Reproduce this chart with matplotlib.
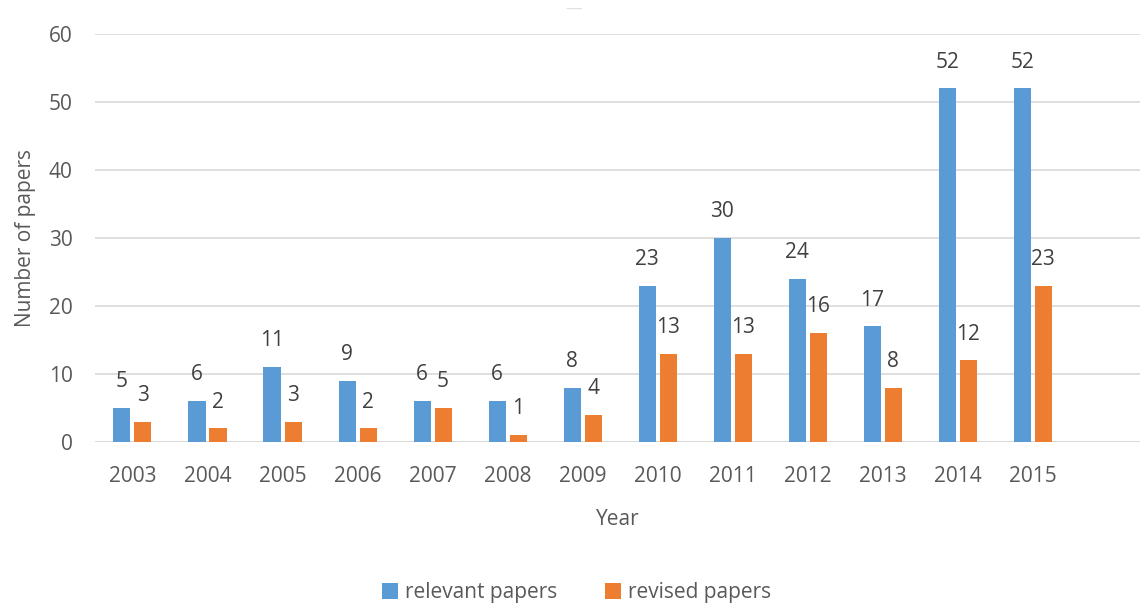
import numpy as np
import matplotlib.pyplot as plt

plt.rcParams['font.family'] = ['Open Sans', 'DejaVu Sans']

years = ['2003', '2004', '2005', '2006', '2007', '2008', '2009',
         '2010', '2011', '2012', '2013', '2014', '2015']
relevant = [5, 6, 11, 9, 6, 6, 8, 23, 30, 24, 17, 52, 52]
revised = [3, 2, 3, 2, 5, 1, 4, 13, 13, 16, 8, 12, 23]

BLUE = '#5B9BD5'
ORANGE = '#ED7D31'
TEXT = '#595959'
GRID = '#D9D9D9'

fig = plt.figure(figsize=(11.4, 6.06), dpi=100)
ax = fig.add_axes([0.0833, 0.2706, 0.9167, 0.6733])

x = np.arange(len(years))
w = 0.227
off = 0.14
b1 = ax.bar(x - off, relevant, w, color=BLUE, label='relevant papers', zorder=3)
b2 = ax.bar(x + off, revised, w, color=ORANGE, label='revised papers', zorder=3)

# value labels above each bar
for bars, vals in ((b1, relevant), (b2, revised)):
    for r, v in zip(bars, vals):
        ax.annotate(str(v), (r.get_x() + r.get_width() / 2, v),
                    xytext=(0, 19), textcoords='offset points',
                    ha='center', va='center', fontsize=15, color='#404040')

ax.set_ylim(0, 60)
ax.set_yticks(range(0, 61, 10))
ax.set_xlim(-0.5, 13.43)
ax.set_xticks(x)
ax.set_xticklabels(years)
ax.yaxis.grid(True, color=GRID, linewidth=1.2, zorder=0)
ax.tick_params(axis='both', length=0, labelsize=15, colors=TEXT)
ax.tick_params(axis='y', pad=16)
ax.tick_params(axis='x', pad=17)
for s in ax.spines.values():
    s.set_visible(False)
ax.axhline(0, color=GRID, linewidth=1.2, zorder=1)

ax.set_xlabel('Year', fontsize=15, color=TEXT, labelpad=16)
ax.set_ylabel('Number of papers', fontsize=15, color=TEXT, labelpad=9)

fig.text(0.503, 0.983, '\u2014', ha='center', va='center', fontsize=12, color='#E0E0E0')

fig.legend(loc='center', bbox_to_anchor=(0.506, 0.022), ncol=2, frameon=False,
           fontsize=15, labelcolor=TEXT, handlelength=0.75, handleheight=0.75,
           handletextpad=0.35, columnspacing=2.3)

fig.savefig('out.png', dpi=100)
